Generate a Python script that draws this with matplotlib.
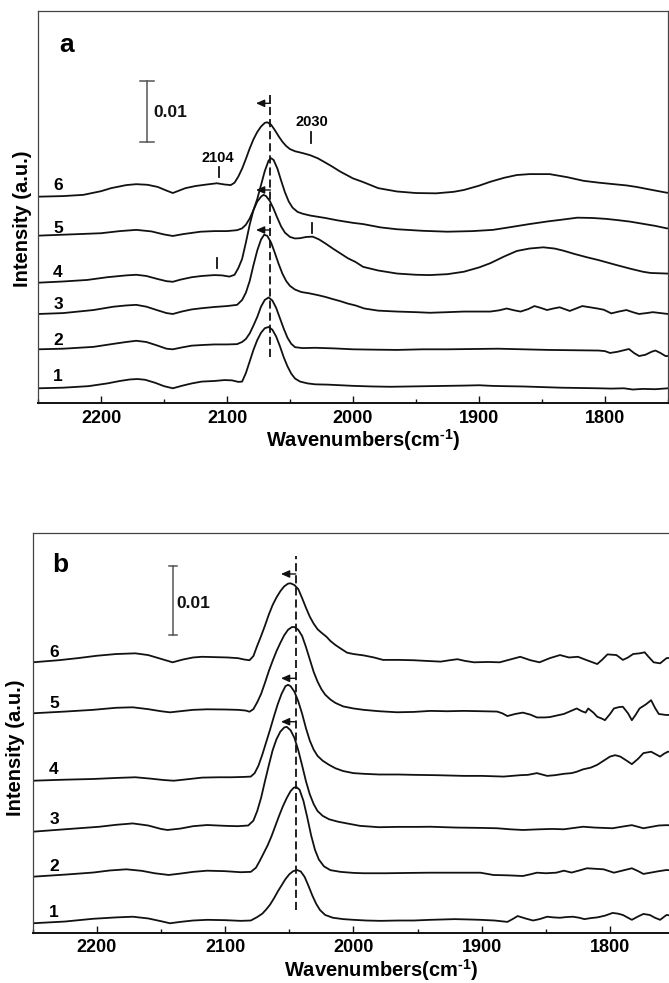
import numpy as np
import matplotlib
matplotlib.use('Agg')
import matplotlib.pyplot as plt
from matplotlib.ticker import MultipleLocator

plt.rcParams['font.family'] = ['Liberation Sans', 'DejaVu Sans']
plt.rcParams['font.weight'] = 'bold'
plt.rcParams['mathtext.fontset'] = 'custom'
plt.rcParams['mathtext.rm'] = 'Liberation Sans:bold'
plt.rcParams['mathtext.bf'] = 'Liberation Sans:bold'
plt.rcParams['mathtext.it'] = 'Liberation Sans:bold'
plt.rcParams['mathtext.default'] = 'bf'

# spectra: (wavenumber cm-1, intensity in 1e-3 a.u. above the curve's own baseline)
# panel a
a1 = [(2250, 0), (2230, 0.1), (2210, 0.35), (2195, 0.8), (2185, 1.2), (2177, 1.45), (2171, 1.52), (2165, 1.4),
      (2157, 0.9), (2150, 0.35), (2143, 0.0), (2136, 0.4), (2128, 0.8), (2120, 1.1), (2110, 1.2), (2102, 1.35),
      (2096, 1.3), (2091, 1.05), (2088, 1.1), (2085, 2.5), (2082, 4.4), (2079, 6.3), (2076, 7.9), (2073, 9.1),
      (2070, 9.85), (2067, 10.05), (2064, 9.6), (2061, 8.5), (2058, 6.9), (2055, 5.1), (2052, 3.6), (2049, 2.4),
      (2046, 1.6), (2042, 1.1), (2036, 0.8), (2030, 0.65), (2020, 0.6), (2010, 0.5), (2000, 0.4), (1985, 0.3),
      (1970, 0.25), (1955, 0.3), (1940, 0.35), (1925, 0.4), (1910, 0.45), (1900, 0.5), (1890, 0.4), (1880, 0.35),
      (1865, 0.3), (1850, 0.2), (1835, 0.1), (1820, 0.05), (1805, 0.0), (1795, -0.05), (1785, 0.0), (1778, -0.2),
      (1770, -0.1), (1760, -0.15), (1750, 0.0)]
a2 = [(2250, 0), (2230, 0.1), (2206, 0.4), (2190, 0.9), (2180, 1.2), (2172, 1.4), (2164, 1.2), (2155, 0.6),
      (2148, 0.1), (2143, 0.0), (2136, 0.3), (2128, 0.6), (2120, 0.7), (2110, 0.8), (2100, 0.8), (2092, 0.85),
      (2088, 1.2), (2085, 1.7), (2082, 2.6), (2079, 3.9), (2076, 5.3), (2073, 7.0), (2070, 8.1), (2067, 8.5),
      (2064, 8.0), (2061, 6.8), (2058, 5.1), (2055, 3.4), (2052, 1.9), (2049, 0.9), (2046, 0.35), (2040, 0.2),
      (2030, 0.25), (2015, 0.15), (2000, 0.0), (1985, -0.05), (1965, -0.1), (1945, 0.0), (1925, 0.0), (1905, 0.05),
      (1885, 0.1), (1865, 0.0), (1845, -0.1), (1825, -0.15), (1805, -0.2), (1800, -0.3), (1796, -0.6), (1790, -0.4),
      (1784, -0.1), (1781, 0.05), (1777, -0.6), (1773, -1.1), (1768, -0.9), (1763, -0.4), (1760, -0.2),
      (1756, -0.6), (1752, -1.1), (1750, -1.1)]
a3 = [(2250, 0), (2230, 0.15), (2206, 0.65), (2190, 1.2), (2180, 1.4), (2172, 1.5), (2164, 1.2), (2155, 0.6),
      (2148, 0.15), (2143, 0.0), (2136, 0.4), (2128, 0.75), (2120, 0.95), (2110, 1.15), (2100, 1.3), (2092, 1.5),
      (2088, 2.3), (2085, 3.5), (2082, 5.4), (2079, 8.0), (2076, 10.4), (2073, 12.2), (2070.5, 13.0), (2068, 12.8),
      (2065, 11.7), (2062, 10.0), (2059, 8.2), (2056, 6.6), (2053, 5.4), (2050, 4.6), (2046, 4.0), (2041, 3.6),
      (2035, 3.4), (2028, 3.1), (2022, 2.8), (2017, 2.5), (2010, 2.1), (2004, 1.7), (1998, 1.4), (1991, 0.9),
      (1980, 0.55), (1965, 0.4), (1950, 0.3), (1939, 0.2), (1925, 0.3), (1912, 0.4), (1900, 0.4), (1891, 0.4),
      (1884, 0.6), (1878, 0.9), (1872, 0.6), (1867, 0.4), (1861, 0.8), (1856, 1.3), (1851, 1.0), (1846, 0.65),
      (1841, 0.9), (1836, 1.1), (1832, 0.8), (1828, 0.5), (1823, 0.9), (1818, 1.3), (1812, 1.1), (1806, 0.9),
      (1801, 0.7), (1795, 0.1), (1789, 0.4), (1783, 0.65), (1778, 0.3), (1773, 0.0), (1767, 0.15), (1762, 0.3),
      (1756, 0.15), (1750, 0.0)]
a4 = [(2250, 0), (2230, 0.2), (2211, 0.45), (2195, 0.9), (2180, 1.2), (2172, 1.3), (2164, 1.1), (2155, 0.6),
      (2148, 0.25), (2143, 0.15), (2137, 0.5), (2128, 0.9), (2120, 1.1), (2110, 1.25), (2104, 1.2), (2098, 1.0),
      (2094, 1.3), (2091, 2.4), (2088, 3.9), (2085, 6.6), (2082, 9.5), (2079, 11.9), (2076, 13.3), (2073, 14.1),
      (2071, 14.4), (2069, 14.2), (2066, 13.4), (2063, 12.1), (2060, 10.6), (2057, 9.2), (2054, 8.2), (2050, 7.5),
      (2046, 7.25), (2042, 7.3), (2037, 7.5), (2032, 7.55), (2027, 7.1), (2022, 6.45), (2016, 5.6), (2010, 4.8),
      (2004, 4.0), (1998, 3.4), (1992, 2.6), (1980, 2.0), (1965, 1.5), (1950, 1.3), (1939, 1.25), (1925, 1.4),
      (1912, 1.8), (1900, 2.5), (1891, 3.2), (1880, 4.3), (1870, 5.2), (1860, 5.6), (1849, 5.8), (1840, 5.6),
      (1833, 5.25), (1824, 4.7), (1814, 4.15), (1805, 3.7), (1791, 2.9), (1780, 2.3), (1770, 1.8), (1764, 1.6),
      (1751, 1.5), (1750, 1.5)]
a5 = [(2250, 0), (2225, 0.2), (2200, 0.4), (2185, 0.75), (2172, 0.95), (2160, 0.7), (2150, 0.2), (2143, -0.05),
      (2135, 0.25), (2121, 0.65), (2110, 0.75), (2100, 0.75), (2092, 0.9), (2088, 1.2), (2085, 1.8), (2082, 2.8),
      (2079, 4.2), (2076, 6.0), (2073, 8.3), (2070, 10.6), (2067, 12.3), (2065, 12.7), (2063, 12.4), (2060, 11.0),
      (2057, 9.0), (2054, 7.1), (2051, 5.6), (2048, 4.6), (2044, 3.9), (2040, 3.6), (2034, 3.3), (2028, 3.1),
      (2022, 2.9), (2012, 2.5), (2000, 2.1), (1992, 1.9), (1978, 1.35), (1965, 1.05), (1945, 0.8), (1925, 0.65),
      (1905, 0.75), (1889, 0.95), (1875, 1.4), (1860, 1.9), (1845, 2.35), (1835, 2.6), (1822, 2.95), (1810, 2.9),
      (1799, 2.75), (1790, 2.55), (1780, 2.3), (1770, 1.95), (1760, 1.6), (1751, 1.2), (1750, 1.2)]
a6 = [(2250, 0), (2230, 0.1), (2214, 0.3), (2200, 0.9), (2192, 1.4), (2180, 1.9), (2172, 2.05), (2163, 1.95),
      (2155, 1.6), (2148, 1.0), (2143, 0.6), (2138, 1.0), (2133, 1.4), (2125, 1.75), (2116, 2.0), (2108, 2.2),
      (2102, 2.0), (2097, 1.9), (2094, 2.3), (2091, 3.3), (2088, 4.6), (2085, 6.2), (2082, 7.9), (2079, 9.4),
      (2076, 10.6), (2073, 11.5), (2070, 12.1), (2068, 12.2), (2065, 11.8), (2062, 10.9), (2059, 9.9), (2056, 9.0),
      (2053, 8.3), (2050, 7.8), (2046, 7.45), (2040, 7.15), (2034, 6.8), (2028, 6.3), (2022, 5.6), (2017, 5.0),
      (2010, 4.1), (2000, 3.0), (1992, 2.4), (1980, 1.4), (1965, 0.85), (1950, 0.6), (1934, 0.55), (1920, 0.8),
      (1912, 1.1), (1900, 1.8), (1891, 2.45), (1880, 3.1), (1870, 3.55), (1860, 3.7), (1844, 3.7), (1830, 3.2),
      (1817, 2.6), (1805, 2.3), (1793, 2.05), (1783, 1.85), (1775, 1.6), (1765, 1.2), (1751, 0.65), (1750, 0.65)]

# panel b
b1 = [(2250, 0), (2225, 0.25), (2203, 0.65), (2185, 0.85), (2172, 0.95), (2160, 0.7), (2150, 0.3), (2143, 0.0),
      (2135, 0.2), (2125, 0.4), (2114, 0.5), (2100, 0.45), (2088, 0.35), (2080, 0.4), (2075, 0.9), (2071, 1.4),
      (2068, 2.0), (2065, 2.7), (2062, 3.6), (2059, 4.6), (2056, 5.5), (2053, 6.4), (2050, 7.1), (2047, 7.55),
      (2044, 7.72), (2041, 7.5), (2038, 6.7), (2035, 5.4), (2032, 4.0), (2029, 2.8), (2026, 1.9), (2022, 1.2),
      (2016, 0.8), (2008, 0.6), (2000, 0.5), (1990, 0.4), (1979, 0.35), (1965, 0.4), (1953, 0.4), (1940, 0.5),
      (1921, 0.6), (1910, 0.55), (1901, 0.5), (1890, 0.4), (1880, 0.2), (1876, 0.6), (1872, 1.05), (1866, 0.7),
      (1860, 0.4), (1855, 0.6), (1849, 0.95), (1844, 0.85), (1839, 0.8), (1834, 0.9), (1829, 0.95), (1824, 0.8),
      (1820, 0.6), (1815, 0.75), (1810, 0.85), (1804, 1.1), (1798, 1.5), (1794, 1.4), (1790, 1.2), (1786, 0.8),
      (1783, 0.5), (1778, 1.0), (1774, 1.35), (1769, 1.2), (1765, 0.8), (1761, 0.5), (1756, 1.2), (1750, 1.1)]
b2 = [(2250, 0), (2225, 0.3), (2203, 0.6), (2190, 0.9), (2177, 1.07), (2165, 0.85), (2155, 0.5), (2144, 0.25),
      (2135, 0.45), (2125, 0.7), (2114, 0.87), (2100, 0.8), (2088, 0.65), (2080, 0.7), (2076, 1.3), (2073, 2.3),
      (2070, 3.4), (2067, 4.5), (2064, 5.8), (2061, 7.3), (2058, 8.8), (2055, 10.2), (2052, 11.4), (2049, 12.4),
      (2046.5, 12.9), (2044.5, 13.0), (2042, 12.6), (2039, 11.0), (2036, 8.6), (2033, 6.0), (2030, 3.9),
      (2027, 2.5), (2023, 1.5), (2018, 0.95), (2010, 0.7), (2000, 0.55), (1992, 0.5), (1975, 0.5), (1955, 0.55),
      (1940, 0.58), (1920, 0.58), (1901, 0.58), (1891, 0.25), (1880, 0.2), (1868, 0.1), (1862, 0.35), (1857, 0.58),
      (1850, 0.5), (1842, 0.58), (1836, 0.87), (1830, 0.6), (1824, 0.9), (1818, 1.22), (1812, 1.15), (1805, 1.07),
      (1797, 0.58), (1790, 0.9), (1783, 1.22), (1778, 0.8), (1774, 0.4), (1768, 0.6), (1762, 0.8), (1756, 0.97),
      (1750, 0.9)]
b3 = [(2250, 0), (2225, 0.35), (2198, 0.72), (2185, 1.0), (2172, 1.2), (2160, 0.9), (2150, 0.4), (2145, 0.25),
      (2135, 0.45), (2125, 0.8), (2114, 0.97), (2100, 0.85), (2090, 0.8), (2082, 0.9), (2078, 1.6), (2075, 3.0),
      (2072, 4.9), (2069, 7.3), (2066, 9.6), (2063, 11.8), (2060, 13.4), (2057, 14.5), (2054, 15.1), (2052, 15.2),
      (2049, 14.7), (2046, 13.6), (2043, 11.8), (2040, 9.6), (2037, 7.3), (2034, 5.4), (2031, 4.0), (2028, 3.0),
      (2024, 2.3), (2019, 1.8), (2012, 1.45), (2005, 1.2), (1995, 0.85), (1980, 0.65), (1965, 0.7), (1950, 0.7),
      (1940, 0.72), (1920, 0.6), (1900, 0.55), (1888, 0.5), (1878, 0.35), (1868, 0.25), (1855, 0.35), (1845, 0.4),
      (1836, 0.35), (1828, 0.55), (1821, 0.72), (1812, 0.6), (1805, 0.55), (1798, 0.5), (1790, 0.75), (1783, 0.95),
      (1778, 0.7), (1774, 0.5), (1768, 0.7), (1762, 0.9), (1756, 0.95), (1750, 0.9)]
b4 = [(2250, 0), (2225, 0.15), (2203, 0.25), (2185, 0.4), (2170, 0.5), (2158, 0.3), (2148, 0.1), (2140, 0.0),
      (2130, 0.2), (2118, 0.45), (2105, 0.5), (2095, 0.5), (2085, 0.55), (2080, 0.6), (2077, 1.1), (2074, 2.2),
      (2071, 3.8), (2068, 5.6), (2065, 7.4), (2062, 9.3), (2059, 11.1), (2056, 12.6), (2053, 13.7), (2051, 13.9),
      (2049, 13.7), (2046, 12.9), (2043, 11.5), (2040, 9.7), (2037, 7.6), (2034, 5.8), (2031, 4.5), (2028, 3.6),
      (2024, 2.9), (2019, 2.3), (2014, 1.8), (2008, 1.4), (2000, 1.1), (1992, 1.0), (1980, 0.9), (1965, 0.9),
      (1953, 0.85), (1935, 0.8), (1914, 0.7), (1900, 0.7), (1883, 0.6), (1870, 0.8), (1864, 0.85), (1857, 1.1),
      (1849, 0.7), (1843, 0.8), (1836, 1.0), (1830, 1.1), (1826, 1.3), (1821, 1.65), (1815, 1.9), (1810, 2.3),
      (1805, 2.9), (1800, 3.5), (1796, 3.7), (1792, 3.5), (1787, 2.9), (1783, 2.4), (1778, 3.2), (1774, 4.0),
      (1768, 4.2), (1764, 3.8), (1761, 3.5), (1758, 3.9), (1755, 4.2), (1750, 4.2)]
b5 = [(2250, 0), (2225, 0.25), (2203, 0.5), (2185, 0.8), (2172, 0.87), (2160, 0.6), (2150, 0.3), (2143, 0.14),
      (2135, 0.3), (2125, 0.5), (2114, 0.58), (2100, 0.55), (2090, 0.5), (2084, 0.4), (2081, 0.23), (2078, 0.6),
      (2075, 1.6), (2072, 2.8), (2069, 4.4), (2066, 6.1), (2063, 7.6), (2060, 9.0), (2057, 10.2), (2054, 11.3),
      (2051, 12.1), (2048, 12.5), (2046, 12.5), (2043, 12.1), (2040, 11.2), (2037, 9.6), (2034, 7.8), (2031, 6.0),
      (2028, 4.6), (2025, 3.5), (2022, 2.7), (2018, 2.0), (2014, 1.5), (2008, 1.0), (2000, 0.7), (1992, 0.5),
      (1980, 0.3), (1966, 0.15), (1953, 0.2), (1940, 0.35), (1927, 0.3), (1914, 0.35), (1900, 0.3), (1888, 0.25),
      (1884, 0.0), (1880, -0.4), (1874, -0.1), (1868, 0.1), (1862, -0.2), (1857, -0.6), (1851, -0.6), (1847, -0.55),
      (1841, -0.3), (1836, -0.1), (1831, 0.3), (1826, 0.7), (1822, 0.3), (1819, 0.1), (1817, 0.7), (1813, 0.1),
      (1810, -0.5), (1806, -0.8), (1804, -1.0), (1800, -0.1), (1797, 0.7), (1793, 0.9), (1790, 0.95), (1786, 0.0),
      (1783, -1.0), (1780, -0.2), (1777, 0.7), (1772, 1.3), (1768, 1.9), (1765, 0.8), (1762, -0.1), (1756, -0.25),
      (1750, -0.2)]
b6 = [(2250, 0), (2230, 0.3), (2215, 0.6), (2200, 0.95), (2185, 1.2), (2170, 1.3), (2160, 1.05), (2150, 0.5),
      (2141, 0.0), (2133, 0.4), (2125, 0.7), (2118, 0.8), (2108, 0.75), (2098, 0.7), (2090, 0.6), (2085, 0.4),
      (2081, 0.3), (2078, 0.9), (2075, 2.4), (2072, 3.8), (2069, 5.3), (2066, 6.9), (2063, 8.3), (2060, 9.4),
      (2057, 10.3), (2054, 11.0), (2051, 11.4), (2049, 11.45), (2046, 11.2), (2043, 10.6), (2040, 9.3), (2037, 7.9),
      (2034, 6.6), (2031, 5.6), (2028, 4.8), (2025, 4.3), (2021, 3.7), (2018, 3.1), (2014, 2.5), (2010, 2.0),
      (2005, 1.4), (2000, 1.2), (1992, 1.0), (1984, 0.7), (1977, 0.35), (1965, 0.35), (1953, 0.3), (1943, 0.2),
      (1932, 0.1), (1925, 0.3), (1919, 0.45), (1913, 0.2), (1906, 0.0), (1895, 0.05), (1886, 0.0), (1878, 0.4),
      (1870, 0.8), (1862, 0.3), (1855, 0.0), (1847, 0.6), (1839, 1.05), (1832, 0.7), (1825, 0.8), (1818, 0.3),
      (1810, -0.25), (1806, 0.4), (1802, 1.15), (1795, 1.05), (1790, 0.35), (1786, 0.7), (1782, 1.2), (1777, 1.3),
      (1773, 1.45), (1770, 0.8), (1766, 0.0), (1761, -0.15), (1756, 0.6), (1750, 0.7)]

spectra_a = [a1, a2, a3, a4, a5, a6]
spectra_b = [b1, b2, b3, b4, b5, b6]
offsets_a = [2.46, 8.85, 14.64, 19.77, 27.48, 33.87]
offsets_b = [1.41, 8.16, 14.68, 22.07, 31.84, 39.23]
curve_names = ['1', '2', '3', '4', '5', '6']
peak_ref_a = 2065.5   # dashed reference line
peak_ref_b = 2045.0

INK = '#111111'
XLABEL = 'Wavenumbers(cm$^{\u2010 1}$)'


def setup(ax, ytop):
    ax.set_xlim(2250, 1750)
    ax.set_ylim(0, ytop)
    ax.xaxis.set_major_locator(MultipleLocator(100))
    ax.xaxis.set_minor_locator(MultipleLocator(50))
    ax.tick_params(axis='x', which='major', direction='in', length=5, width=1.0,
                   labelsize=13, pad=4.5, top=False, color=INK)
    ax.tick_params(axis='x', which='minor', direction='in', length=3, width=1.0, top=False, color=INK)
    ax.set_yticks([])
    for s in ['left', 'top', 'right']:
        ax.spines[s].set_color('#444444')
        ax.spines[s].set_linewidth(0.9)
    ax.spines['bottom'].set_color(INK)
    ax.spines['bottom'].set_linewidth(1.4)


def draw(ax, spectra, offsets):
    for spec, off in zip(spectra, offsets):
        x, y = np.array(spec, dtype=float).T
        ax.plot(x, y + off, color=INK, lw=1.3, solid_joinstyle='round')


def arrow(ax, x_head, x_tail, y):
    ax.annotate('', xy=(x_head, y), xytext=(x_tail, y),
                arrowprops=dict(arrowstyle='-|>,head_length=0.5,head_width=0.22', color=INK,
                                lw=1.0, shrinkA=0, shrinkB=0, mutation_scale=10))


def scale_bar(ax, x, y0, y1, half, tx, ty):
    ax.plot([x, x], [y0, y1], color='#555555', lw=1.1)
    ax.plot([x - half, x + half], [y0, y0], color='#555555', lw=1.1)
    ax.plot([x - half, x + half], [y1, y1], color='#555555', lw=1.1)
    ax.text(tx, ty, '0.01', fontsize=12.5, ha='left', va='baseline', color=INK)


fig = plt.figure(figsize=(6.69, 9.83), dpi=100)
ax_a = fig.add_axes([38 / 669, 1 - 403.3 / 983, 630 / 669, 392.3 / 983])
ax_b = fig.add_axes([32.7 / 669, 1 - 933 / 983, 641.5 / 669, 400 / 983])

# ---- panel a ----
setup(ax_a, 64.31)
draw(ax_a, spectra_a, offsets_a)
ax_a.plot([peak_ref_a, peak_ref_a], [7.6, 50.5], color=INK, lw=1.3, dashes=(4.5, 2.2))
for yy in [49.18, 34.97, 28.41]:
    arrow(ax_a, 2077, peak_ref_a, yy)
for name, yy in zip(curve_names, [3.66, 9.56, 15.41, 20.66, 27.87, 34.97]):
    ax_a.text(2234.1, yy, name, fontsize=12.5, ha='center', va='baseline')
scale_bar(ax_a, 2163.7, 42.89, 52.89, 5.5, 2158.7, 46.98)
ax_a.text(2107.5, 39.6, '2104', fontsize=10.5, ha='center', va='baseline')
ax_a.text(2032.8, 45.46, '2030', fontsize=10.5, ha='center', va='baseline')
for xm, y0, y1 in [(2106.1, 37.15, 38.79), (2033.3, 42.62, 44.52), (2108.2, 22.13, 23.77), (2032.8, 27.87, 29.51)]:
    ax_a.plot([xm, xm], [y0, y1], color=INK, lw=1.3)
ax_a.text(0.0338, 0.896, 'a', transform=ax_a.transAxes, fontsize=19, ha='left', va='baseline')
ax_a.text(0.516, -0.1114, XLABEL, transform=ax_a.transAxes, fontsize=14.5,
          ha='center', va='baseline')
ax_a.text(-0.009, 0.471, 'Intensity (a.u.)', transform=ax_a.transAxes, fontsize=14.5,
          rotation=90, ha='right', va='center')

# ---- panel b ----
setup(ax_b, 57.97)
draw(ax_b, spectra_b, offsets_b)
ax_b.plot([peak_ref_b, peak_ref_b], [3.33, 54.6], color=INK, lw=1.3, dashes=(4.5, 2.2))
for yy in [52.03, 36.91, 30.62]:
    arrow(ax_b, 2056.5, peak_ref_b, yy)
for name, yy in zip(curve_names, [2.36, 8.99, 15.75, 23.0, 32.57, 40.04]):
    ax_b.text(2233.4, yy, name, fontsize=12.5, ha='center', va='baseline')
scale_bar(ax_b, 2140.9, 43.19, 53.19, 3.0, 2137.8, 47.06)
ax_b.text(0.0312, 0.903, 'b', transform=ax_b.transAxes, fontsize=19, ha='left', va='baseline')
ax_b.text(0.543, -0.1093, XLABEL, transform=ax_b.transAxes, fontsize=14.5,
          ha='center', va='baseline')
ax_b.text(-0.012, 0.4625, 'Intensity (a.u.)', transform=ax_b.transAxes, fontsize=14.5,
          rotation=90, ha='right', va='center')

fig.savefig('out.png', dpi=100)
